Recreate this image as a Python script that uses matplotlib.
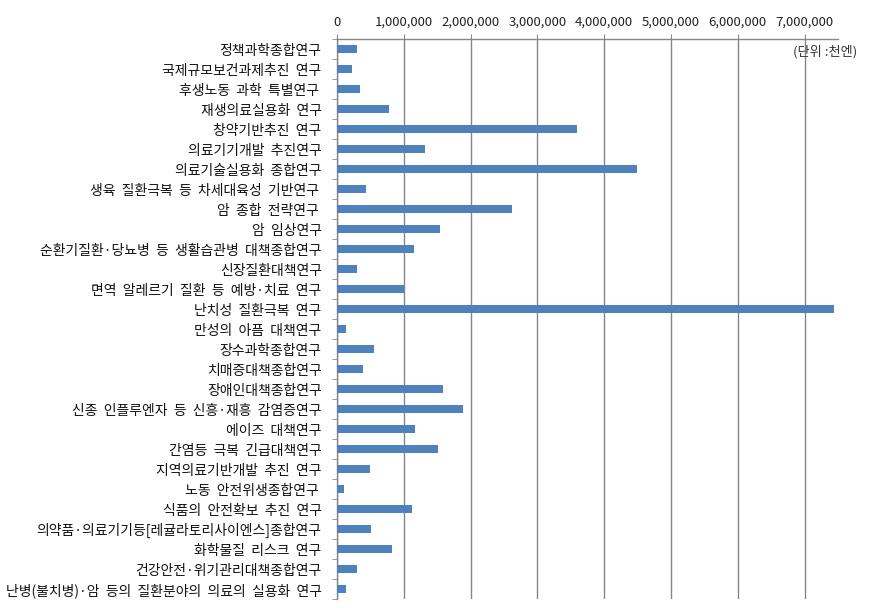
import matplotlib
matplotlib.use("Agg")
import matplotlib.pyplot as plt
import matplotlib.ticker as ticker
import numpy as np

plt.rcParams['font.family'] = ['Noto Sans CJK KR', 'DejaVu Sans']

labels = [
    "정책과학종합연구",
    "국제규모보건과제추진  연구",
    "후생노동  과학  특별연구 ",
    "재생의료실용화  연구",
    "창약기반추진  연구",
    "의료기기개발  추진연구",
    "의료기술실용화  종합연구",
    "생육  질환극복  등  차세대육성  기반연구 ",
    "암  종합  전략연구 ",
    "암  임상연구",
    "순환기질환·당뇨병  등  생활습관병  대책종합연구",
    "신장질환대책연구",
    "면역  알레르기  질환  등  예방·치료  연구",
    "난치성  질환극복  연구",
    "만성의  아픔  대책연구",
    "장수과학종합연구",
    "치매증대책종합연구",
    "장애인대책종합연구",
    "신종  인플루엔자  등  신흥·재흥  감염증연구",
    "에이즈  대책연구",
    "간염등  극복  긴급대책연구",
    "지역의료기반개발  추진  연구",
    "노동  안전위생종합연구 ",
    "식품의  안전확보  추진  연구",
    "의약품·의료기기등[레귤라토리사이엔스]종합연구",
    "화학물질  리스크  연구",
    "건강안전·위기관리대책종합연구",
    "난병(불치병)·암  등의  질환분야의  의료의  실용화  연구",
]

# 단위: 천엔
values = [
    294000, 220000, 341000, 776000, 3590000, 1318000, 4489000, 430000,
    2617000, 1536000, 1148000, 294000, 1002000, 7445000, 131000, 551000,
    383000, 1584000, 1883000, 1164000, 1505000, 488000, 100000, 1117000,
    503000, 818000, 295000, 130000,
]

xticks = [0, 1000000, 2000000, 3000000, 4000000, 5000000, 6000000, 7000000]

grey = "#868686"
bar_color = "#4F81BD"

fig = plt.figure(figsize=(8.79, 6.15), dpi=100)
ax = fig.add_axes([337 / 879, 1 - 599 / 615, (838 - 337) / 879, (599 - 39) / 615])

n = len(labels)
y = np.arange(n)
ax.barh(y, values, height=0.4, color=bar_color, zorder=3)

ax.set_xlim(0, 7500000)
ax.set_ylim(n - 0.5, -0.5)

ax.xaxis.tick_top()
ax.set_xticks(xticks)
ax.xaxis.set_major_formatter(ticker.FuncFormatter(lambda v, p: "{:,}".format(int(v))))
ax.tick_params(axis='x', which='major', direction='out', length=3.4, color=grey,
               labelsize=9.5, pad=4, labelcolor="#222222")
ax.grid(axis='x', color=grey, linewidth=1.0, zorder=0)

ax.set_yticks(y)
ax.set_yticklabels(labels, fontsize=10, color="#111111")
ax.tick_params(axis='y', which='major', length=0, pad=11)
ax.set_yticks(np.arange(-0.5, n, 1), minor=True)
ax.tick_params(axis='y', which='minor', direction='out', length=3.6, color=grey)

for side in ['right', 'bottom']:
    ax.spines[side].set_visible(False)
for side in ['top', 'left']:
    ax.spines[side].set_color(grey)
    ax.spines[side].set_linewidth(1.0)

fig.text(857 / 879, 1 - 52 / 615, "(단위 :천엔)", ha='right', va='center',
         fontsize=9.5, color="#333333")

fig.savefig("out.png", dpi=100)
